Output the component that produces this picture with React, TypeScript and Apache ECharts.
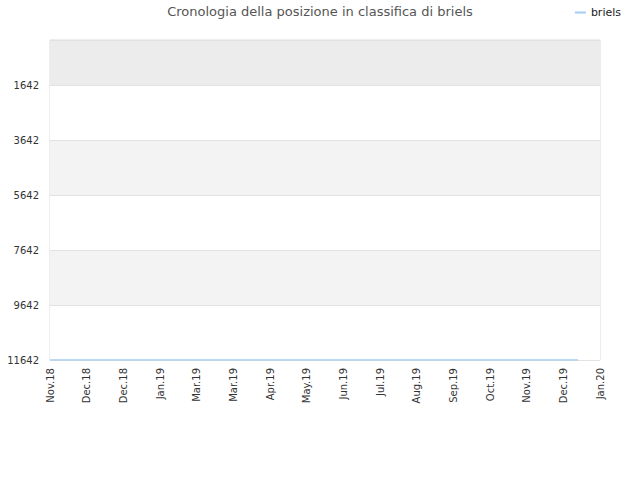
import * as echarts from "echarts";
import { useEffect, useRef } from "react";

const monthLabels = ["Nov.18", "Dec.18", "Dec.18", "Jan.19", "Mar.19", "Mar.19", "Apr.19", "May.19", "Jun.19", "Jul.19", "Aug.19", "Sep.19", "Oct.19", "Nov.19", "Dec.19", "Jan.20"];
const rankPositions = [0, 14.4];
const rankValues = [11642, 11642];
const rankTicks = [1642, 3642, 5642, 7642, 9642, 11642];

// ticks sit at 1642 + 2000k, so the axis is shifted to put them on round numbers
const offset = 2000 - rankTicks[0];
const fontFamily = "DejaVu Sans, sans-serif";

export default function App() {
  const ref = useRef<HTMLDivElement | null>(null);

  useEffect(() => {
    if (!ref.current) return;
    const chart = echarts.init(ref.current, undefined, { renderer: "svg" });
    chart.setOption({
      animation: false,
      textStyle: { fontFamily },
      title: {
        text: "Cronologia della posizione in classifica di briels",
        left: "center",
        top: 0,
        textStyle: { fontSize: 13, fontWeight: "normal", color: "#555", fontFamily },
      },
      legend: {
        right: 14,
        top: 2,
        itemWidth: 11,
        itemHeight: 2,
        itemGap: 8,
        icon: "rect",
        textStyle: { fontSize: 11, color: "#222", fontFamily },
        data: ["briels"],
      },
      grid: { left: 50, right: 40, top: 40, bottom: 120, show: true, borderColor: "#dcdcdc", borderWidth: 1, backgroundColor: "transparent" },
      xAxis: {
        type: "value",
        min: 0,
        max: monthLabels.length - 1,
        interval: 1,
        axisLine: { show: false },
        axisTick: { show: false },
        splitLine: { show: false },
        axisLabel: {
          rotate: 90,
          margin: 8,
          fontSize: 10,
          color: "#333",
          formatter: (v: number) => monthLabels[Math.round(v)] ?? "",
        },
      },
      yAxis: {
        type: "value",
        inverse: true,
        min: offset,
        max: rankTicks[rankTicks.length - 1] + offset,
        minInterval: 2000,
        maxInterval: 2000,
        axisLine: { show: false },
        axisTick: { show: false },
        axisLabel: {
          showMinLabel: false,
          margin: 11,
          fontSize: 10,
          color: "#333",
          formatter: (v: number) => String(v - offset),
        },
        splitLine: { show: true, lineStyle: { color: "#e2e2e2", width: 1 } },
        splitArea: { show: true, areaStyle: { color: ["#ececec", "#ffffff", "#f3f3f3", "#ffffff", "#f3f3f3", "#ffffff"] } },
      },
      series: [
        {
          name: "briels",
          type: "line",
          symbol: "none",
          lineStyle: { color: "#a3cdf3", width: 1.5 },
          itemStyle: { color: "#a3cdf3" },
          data: rankPositions.map((x, i) => [x, rankValues[i] + offset]),
        },
      ],
    });
    return () => chart.dispose();
  }, []);

  return <div ref={ref} style={{ position: "absolute", left: 0, top: 0, width: 640, height: 480 }} />;
}
